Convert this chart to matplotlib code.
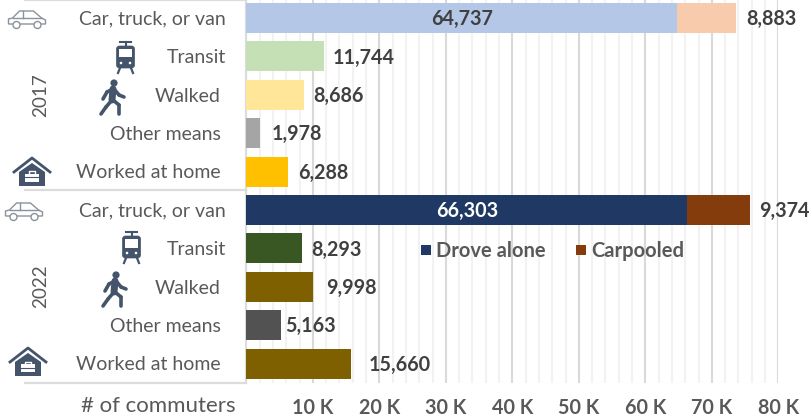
import matplotlib
matplotlib.use("Agg")
import matplotlib.pyplot as plt
from matplotlib.patches import Rectangle, Polygon, Circle, FancyBboxPatch
from matplotlib.lines import Line2D

plt.rcParams['font.family'] = ['Lato', 'DejaVu Sans']

categories = ["Car, truck, or van", "Transit", "Walked", "Other means", "Worked at home"] * 2
years = ["2017", "2022"]
primary = [64737, 11744, 8686, 1978, 6288, 66303, 8293, 9998, 5163, 15660]
carpooled = [8883, 0, 0, 0, 0, 9374, 0, 0, 0, 0]
primary_colors = ["#B4C7E7", "#C5E0B4", "#FFE699", "#A5A5A5", "#FFC000",
                  "#1F3864", "#385723", "#7F6000", "#525252", "#7F6000"]
carpool_colors = ["#F8CBAD"] * 5 + ["#843C0C"] * 5
xticks = [10, 20, 30, 40, 50, 60, 70, 80]
label_gap_px = [10, 8, 9.5, 12, 10, 10, 10, 13, 4, 18]
cat_right_px = [226, 226, 221, 221, 221, 226, 226, 221, 221, 221]

W, H = 810, 419
fig = plt.figure(figsize=(W / 100, H / 100), dpi=100, facecolor="white")

X0, X80, YB = 246.4, 778.3, 383.0
ROW0, ROW = 18.0, 38.4
ax = fig.add_axes([X0 / W, 1 - YB / H, (X80 - X0) / W, YB / H], zorder=2)
ax.patch.set_alpha(0)
ax.set_xlim(0, 80000)
ax.set_ylim((YB - ROW0) / ROW, -ROW0 / ROW)
for s in ax.spines.values():
    s.set_visible(False)
ax.tick_params(left=False, bottom=False, labelleft=False, labelbottom=False)
for v in range(2, 81, 2):
    major = v % 10 == 0
    ax.axvline(v * 1000, color="#D9D9D9" if major else "#F2F2F2", lw=1.5, zorder=1)

ypos = list(range(10))
ax.barh(ypos, primary, height=0.78, color=primary_colors, zorder=3)
ax.barh(ypos, carpooled, left=primary, height=0.78, color=carpool_colors, zorder=3)

TXT = "#595959"
LBL = "#404040"
DY = 1.2
for i, (p, c, gap) in enumerate(zip(primary, carpooled, label_gap_px)):
    if c:
        ax.annotate(f"{p:,}", (p / 2, i), xytext=(0, -DY * 0.72), textcoords="offset points",
                    ha="center", va="center", fontsize=14.2, fontweight="bold",
                    color="#404040" if i < 5 else "white", zorder=4)
    last = c if c else p
    ax.annotate(f"{last:,}", (p + c, i), xytext=(gap * 0.72, -DY * 0.72), textcoords="offset points",
                ha="left", va="center", fontsize=14.2, fontweight="bold", color=LBL,
                annotation_clip=False, zorder=4)

# overlay in pixel coordinates
ov = fig.add_axes([0, 0, 1, 1], zorder=1)
ov.set_xlim(0, W)
ov.set_ylim(H, 0)
ov.axis("off")

ov.add_patch(Rectangle((25, 1), 221, 189, fc="white", ec="none"))
ov.add_patch(Rectangle((25, 191), 221, 192, fc="white", ec="none"))
for xs, ys in [((25, 246), (0.5, 0.5)), ((25, 246), (190.5, 190.5)),
               ((25, 246), (383, 383)), ((246, 246), (0, 383))]:
    ov.add_line(Line2D(xs, ys, color="#DCDCDC", lw=1.6))

for i, (name, rx) in enumerate(zip(categories, cat_right_px)):
    ov.text(rx, ROW0 + ROW * i + DY, name, ha="right", va="center", fontsize=14, color=TXT)
ov.text(41, 95, years[0], rotation=90, ha="center", va="center", fontsize=13.6, color=TXT)
ov.text(41, 286, years[1], rotation=90, ha="center", va="center", fontsize=13.6, color=TXT)
ov.text(236, 406, "# of commuters", ha="right", va="center", fontsize=16, color=TXT)
for t in xticks:
    ov.text(X0 + (X80 - X0) * t / 80, 407.5, f"{t} K", ha="center", va="center",
            fontsize=14.2, fontweight="bold", color=TXT)

# legend
ftop = fig.add_axes([0, 0, 1, 1], zorder=5)
ftop.set_xlim(0, W)
ftop.set_ylim(H, 0)
ftop.axis("off")
for x, col, name in [(421, "#1F3864", "Drove alone"), (576, "#843C0C", "Carpooled")]:
    ftop.add_patch(Rectangle((x, 245), 10, 10, fc=col, ec="none"))
    ftop.text(x + 15, 250.5, name, ha="left", va="center", fontsize=14.5,
              fontweight="bold", color=TXT)

ICON = "#44546A"
OUT = "#8C929C"


def car(a, x, y):
    pts = [(1, 14), (1, 9), (5, 8), (12, 1), (26, 1), (34, 8), (38, 10), (38, 14)]
    a.add_patch(Polygon([(x + p, y + q) for p, q in pts], closed=True, fc="white", ec=OUT, lw=1))
    a.add_line(Line2D((x + 5, x + 34), (y + 8, y + 8), color=OUT, lw=1))
    a.add_line(Line2D((x + 15, x + 15), (y + 1, y + 8), color=OUT, lw=1))
    for cx in (9, 30):
        a.add_patch(Circle((x + cx, y + 15), 3.5, fc="white", ec=OUT, lw=1))


def tram(a, x, y):
    a.add_line(Line2D((x + 5, x + 16), (y + 1, y + 1), color=ICON, lw=1.5))
    a.add_line(Line2D((x + 10.5, x + 10.5), (y + 1, y + 5), color=ICON, lw=1.5))
    a.add_patch(FancyBboxPatch((x + 1.5, y + 5), 18, 22, boxstyle="round,pad=0,rounding_size=3",
                               fc=ICON, ec=ICON, lw=0.5))
    a.add_patch(Rectangle((x + 4, y + 8), 13, 8.5, fc="white", ec="none"))
    for dx, sx in ((5, -2), (16, 2)):
        a.add_line(Line2D((x + dx, x + dx + sx), (y + 27, y + 32), color=ICON, lw=1.6))
    for cx in (6, 15):
        a.add_patch(Circle((x + cx, y + 22), 1.3, fc="white", ec="none"))


def walker(a, x, y):
    a.add_patch(Circle((x + 15, y + 4), 3.6, fc=ICON, ec="none"))
    limbs = [((8, 13), (14, 10)), ((8, 13), (4, 20)), ((15, 10), (20, 16)),
             ((20, 16), (25, 18)), ((13, 21), (7, 28)), ((7, 28), (2, 35)),
             ((14, 21), (20, 26)), ((20, 26), (20, 35))]
    a.add_line(Line2D((x + 14, x + 13), (y + 10, y + 21), color=ICON, lw=5, solid_capstyle="round"))
    for (p0, q0), (p1, q1) in limbs:
        a.add_line(Line2D((x + p0, x + p1), (y + q0, y + q1), color=ICON, lw=2.6,
                          solid_capstyle="round"))


def house(a, x, y):
    a.add_line(Line2D((x, x + 18, x + 36), (y + 15, y + 1, y + 15), color=ICON, lw=2))
    a.add_patch(Polygon([(x + 5, y + 15), (x + 18, y + 6), (x + 31, y + 15), (x + 31, y + 29),
                         (x + 5, y + 29)], closed=True, fc=ICON, ec="none"))
    a.add_patch(Rectangle((x + 11, y + 17), 14, 8, fc="white", ec="none"))
    a.add_line(Line2D((x + 11, x + 25), (y + 20.5, y + 20.5), color=ICON, lw=0.8))
    a.add_line(Line2D((x + 15, x + 15, x + 21, x + 21), (y + 17, y + 14.5, y + 14.5, y + 17),
                      color="white", lw=1))


car(ov, 7.5, 10)
car(ov, 4.5, 202)
tram(ov, 115, 41)
tram(ov, 121, 231)
walker(ov, 99, 79)
walker(ov, 101, 271)
house(ov, 14, 157)
house(ov, 10, 347)

fig.savefig("out.png", dpi=100, facecolor="white")
